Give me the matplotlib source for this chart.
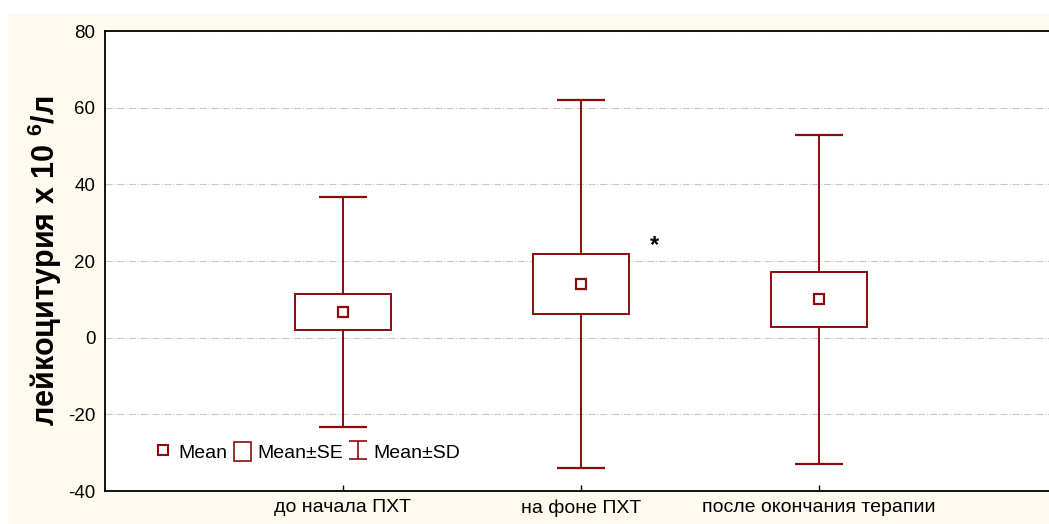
import numpy as np
import matplotlib.pyplot as plt
from matplotlib.lines import Line2D
from matplotlib.patches import Rectangle
from matplotlib.path import Path

plt.rcParams['font.family'] = ['Liberation Sans', 'DejaVu Sans']
plt.rcParams['mathtext.fontset'] = 'custom'
plt.rcParams['mathtext.rm'] = 'Liberation Sans'
plt.rcParams['mathtext.bf'] = 'Liberation Sans:bold'
plt.rcParams['axes.unicode_minus'] = False

groups = ['до начала ПХТ', 'на фоне ПХТ', 'после окончания терапии']
mean = np.array([6.7, 14.0, 10.0])
se = np.array([4.8, 7.7, 7.2])
sd = np.array([30.0, 48.0, 43.0])

red = '#8b0a0a'
cream = '#fffaf0'

fig = plt.figure(figsize=(10.49, 5.24), dpi=100, facecolor='white')
fig.patches.append(Rectangle((8 / 1049, 0), 1, 1 - 13 / 524, transform=fig.transFigure,
                             facecolor=cream, edgecolor='none', zorder=-10))
ax = fig.add_axes([105 / 1049, 33 / 524, 944 / 1049, 460 / 524])
ax.set_facecolor('white')

x = np.arange(1, len(groups) + 1)

# whiskers (mean +- SD) with caps
ax.vlines(x, mean - sd, mean + sd, color=red, lw=1.4, zorder=2)
ax.hlines(mean - sd, x - 0.1, x + 0.1, color=red, lw=1.6, zorder=2)
ax.hlines(mean + sd, x - 0.1, x + 0.1, color=red, lw=1.6, zorder=2)
# boxes (mean +- SE)
ax.bar(x, 2 * se, bottom=mean - se, width=0.4, facecolor='white',
       edgecolor=red, linewidth=1.4, zorder=3)
# means
ax.plot(x, mean, ls='none', marker='s', ms=7, mfc='white', mec=red, mew=1.6, zorder=4)

ax.text(2.31, 24, '*', fontsize=17, fontweight='bold', ha='center', va='center')

ax.set_xlim(0, 944 / 238)
ax.set_ylim(-40, 80)
ax.set_yticks([-40, -20, 0, 20, 40, 60, 80])
ax.set_xticks(x)
ax.set_xticklabels(groups, fontsize=14)
ax.tick_params(axis='y', length=0, labelsize=13.5, pad=7)
ax.tick_params(axis='x', direction='in', length=4, width=1, pad=6)
ax.grid(axis='y', color='#c8c8c8', ls='-.', lw=0.8)
ax.set_axisbelow(True)
for s in ['left', 'bottom', 'top']:
    ax.spines[s].set_linewidth(1.3)
ax.spines['right'].set_visible(False)

ax.set_ylabel('лейкоцитурия х 10 $^{\\mathbf{6}}$/л', fontsize=22, fontweight='bold', labelpad=3)

ibar = Path([(-1, -1), (1, -1), (0, -1), (0, 1), (-1, 1), (1, 1)],
            [Path.MOVETO, Path.LINETO, Path.MOVETO, Path.LINETO, Path.MOVETO, Path.LINETO])
handles = [
    Line2D([], [], ls='none', marker='s', ms=7, mfc='white', mec=red, mew=1.5),
    Rectangle((0, 0), 1, 1, facecolor='white', edgecolor=red, lw=1.2),
    Line2D([], [], ls='none', marker=ibar, ms=13, mec=red, mew=1.2),
]
ax.legend(handles, ['Mean', 'Mean±SE', 'Mean±SD'], loc='center left',
          bbox_to_anchor=(0.053, 0.085), borderaxespad=0, borderpad=0,
          ncol=3, frameon=False, fontsize=14,
          handlelength=0.85, handleheight=1.1, handletextpad=0.35, columnspacing=0.35)

fig.savefig('out.png', dpi=100, facecolor=fig.get_facecolor())
